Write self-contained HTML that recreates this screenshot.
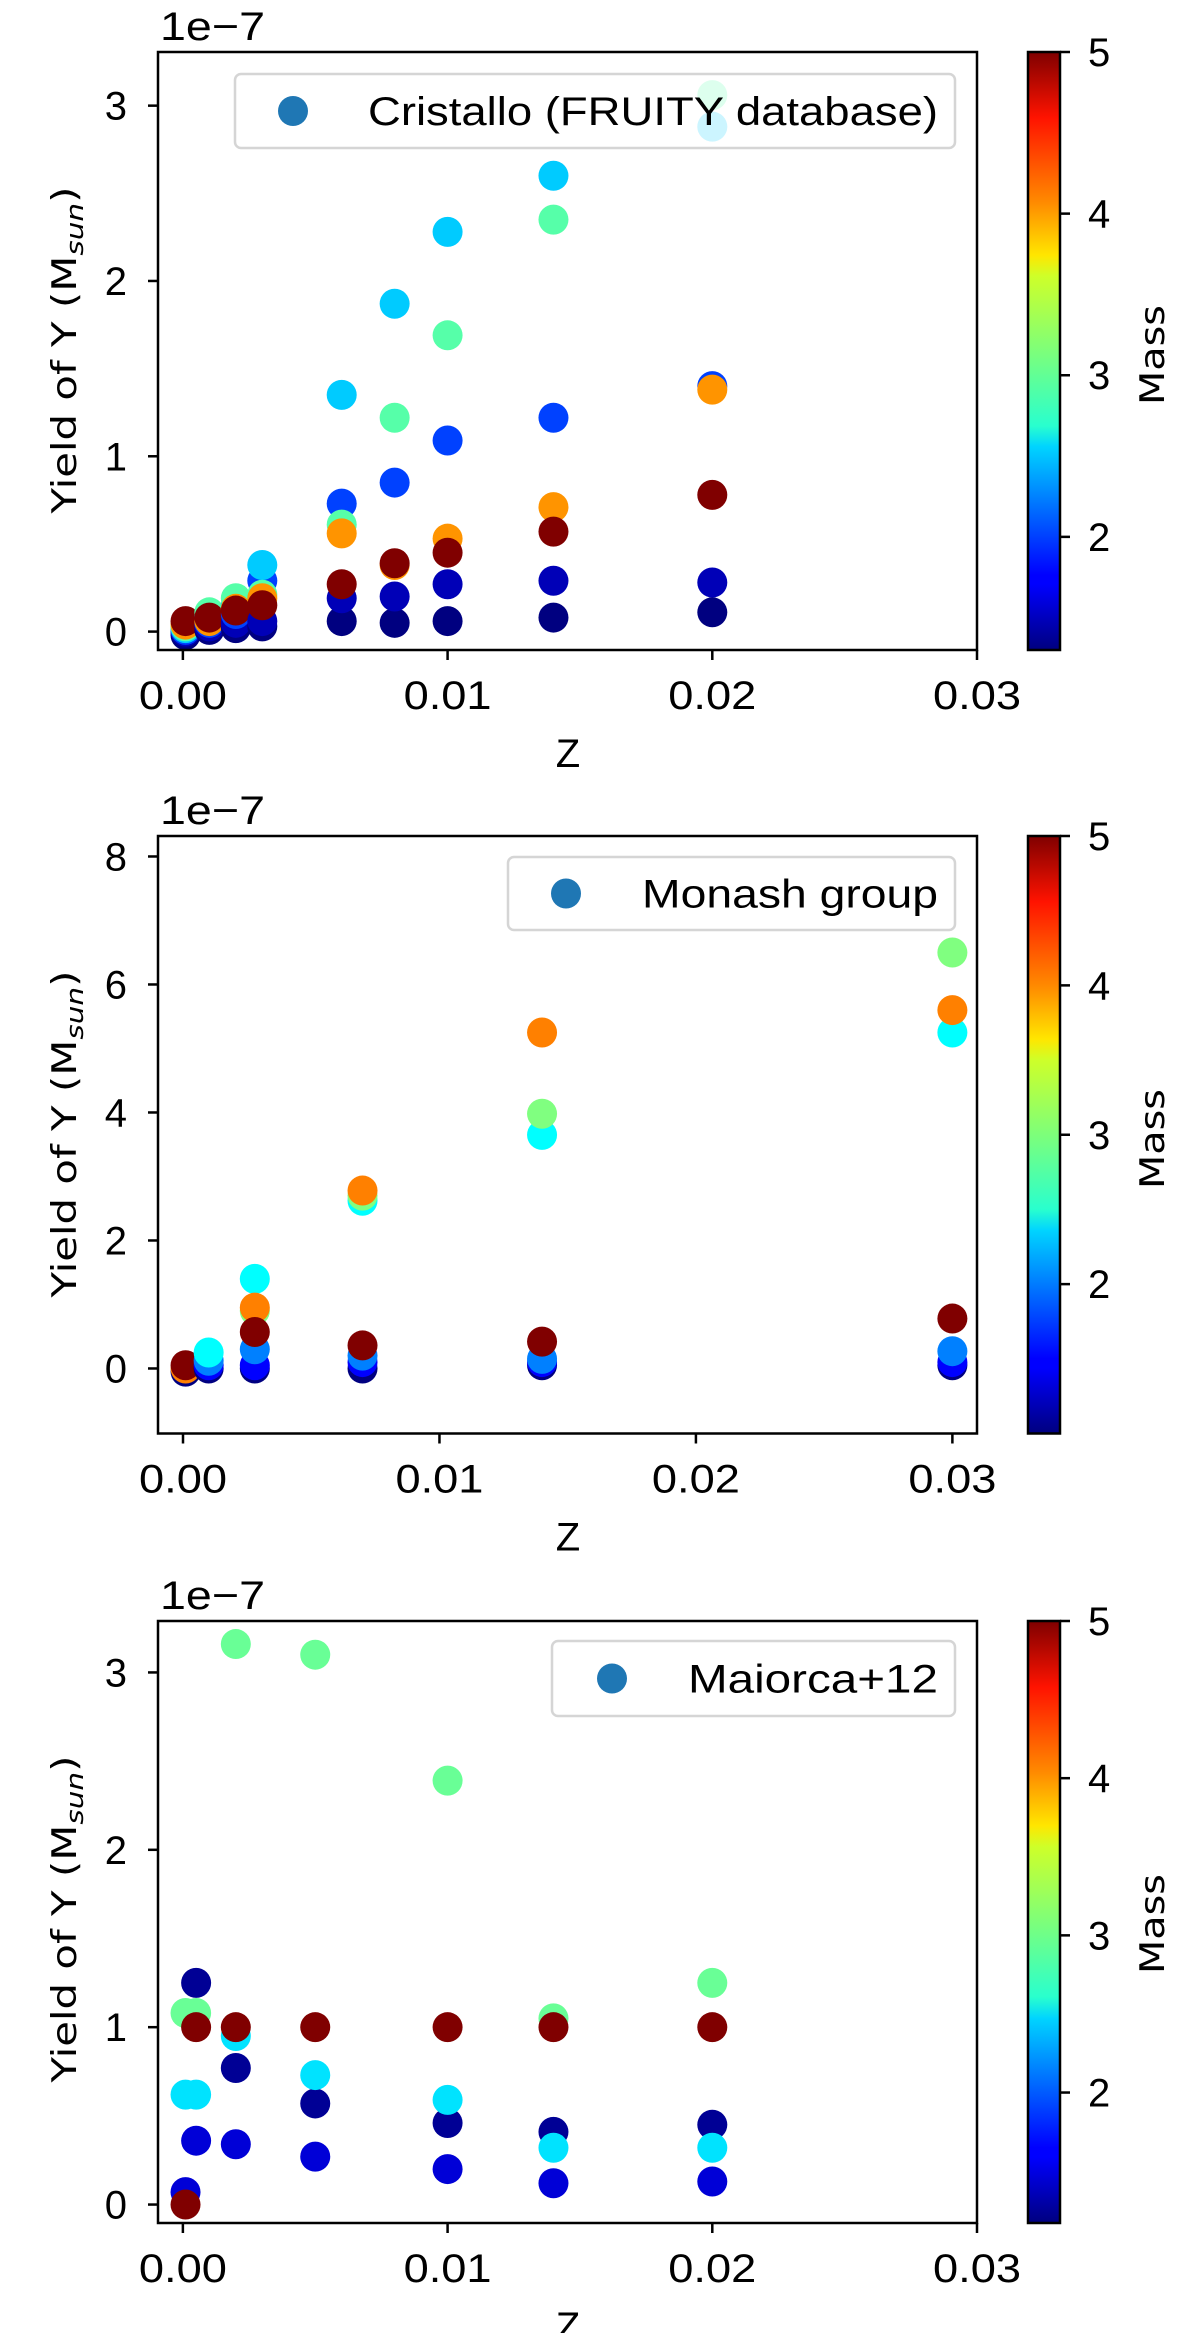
<!DOCTYPE html>
<html><head><meta charset="utf-8"><style>
html,body{margin:0;padding:0;background:#fff;}
svg{display:block;}
text{fill:#000;}
.tk{font-family:"Liberation Sans Narrow","Liberation Sans",sans-serif;font-size:40px;}
.lb{font-family:"DejaVu Sans","Liberation Sans",sans-serif;font-size:34px;}
</style></head><body>
<svg id="fig" width="1200" height="2333" viewBox="0 0 1200 2333" xmlns="http://www.w3.org/2000/svg">
<defs>
<linearGradient id="jetg" x1="0" y1="1" x2="0" y2="0">
<stop offset="0" stop-color="#00007f"/><stop offset="0.11" stop-color="#0000ff"/>
<stop offset="0.125" stop-color="#0000ff"/><stop offset="0.34" stop-color="#00d4ff"/>
<stop offset="0.375" stop-color="#29ffce"/><stop offset="0.5" stop-color="#7dff7a"/>
<stop offset="0.625" stop-color="#ceff29"/><stop offset="0.66" stop-color="#ffe600"/>
<stop offset="0.75" stop-color="#ff8900"/><stop offset="0.89" stop-color="#ff1300"/>
<stop offset="1" stop-color="#7f0000"/>
</linearGradient>
</defs>
</svg>
<script>
// ---- Panel 1: Cristallo (FRUITY) ----
const p1Z    = [0.0001,0.0001,0.0001,0.0001,0.0001,0.0001,0.0001, 0.001,0.001,0.001,0.001,0.001,0.001,0.001, 0.002,0.002,0.002,0.002,0.002,0.002,0.002, 0.003,0.003,0.003,0.003,0.003,0.003,0.003, 0.006,0.006,0.006,0.006,0.006,0.006,0.006, 0.008,0.008,0.008,0.008,0.008,0.008,0.008, 0.01,0.01,0.01,0.01,0.01,0.01,0.01, 0.014,0.014,0.014,0.014,0.014,0.014,0.014, 0.02,0.02,0.02,0.02,0.02,0.02,0.02];
const p1Mass = [1.3,1.5,2,2.5,3,4,5, 1.3,1.5,2,2.5,3,4,5, 1.3,1.5,2,2.5,3,4,5, 1.3,1.5,2,2.5,3,4,5, 1.3,1.5,2,2.5,3,4,5, 1.3,1.5,2,2.5,3,4,5, 1.3,1.5,2,2.5,3,4,5, 1.3,1.5,2,2.5,3,4,5, 1.3,1.5,2,2.5,3,4,5];
const p1Y    = [-0.02,0.0,0.01,0.02,0.03,0.04,0.06, 0.01,0.03,0.05,0.09,0.11,0.06,0.08, 0.02,0.05,0.1,0.15,0.19,0.13,0.12, 0.03,0.06,0.29,0.38,0.21,0.19,0.15, 0.06,0.19,0.73,1.35,0.61,0.56,0.27, 0.05,0.2,0.85,1.87,1.22,0.38,0.39, 0.06,0.27,1.09,2.28,1.69,0.53,0.45, 0.08,0.29,1.22,2.6,2.35,0.71,0.57, 0.11,0.28,1.4,2.88,3.06,1.38,0.78];
// ---- Panel 2: Monash ----
const p2Z    = [0.0001,0.0001,0.0001, 0.001,0.001,0.001,0.001, 0.0028,0.0028,0.0028,0.0028,0.0028,0.0028,0.0028, 0.007,0.007,0.007,0.007,0.007,0.007,0.007, 0.014,0.014,0.014,0.014,0.014,0.014,0.014, 0.03,0.03,0.03,0.03,0.03,0.03,0.03];
const p2Mass = [1,4,5, 1,1.5,2,2.5, 1,1.5,2,2.5,3,4,5, 1,1.5,2,2.5,3,4,5, 1,1.5,2,2.5,3,4,5, 1,1.5,2,2.5,3,4,5];
const p2Y    = [-0.05,0.0,0.05, 0.0,0.05,0.12,0.25, 0.0,0.05,0.3,1.4,0.9,0.95,0.57, 0.0,0.1,0.2,2.62,2.7,2.78,0.36, 0.05,0.1,0.15,3.65,3.98,5.25,0.42, 0.05,0.1,0.27,5.25,6.5,5.6,0.78];
// ---- Panel 3: Maiorca+12 ----
const p3Z    = [0.0001,0.0001,0.0001,0.0001, 0.0005,0.0005,0.0005,0.0005,0.0005, 0.002,0.002,0.002,0.002,0.002, 0.005,0.005,0.005,0.005,0.005, 0.01,0.01,0.01,0.01,0.01, 0.014,0.014,0.014,0.014,0.014, 0.02,0.02,0.02,0.02,0.02];
const p3Mass = [1.5,2.5,3,5, 1.5,1.25,2.5,3,5, 1.5,1.25,2.5,3,5, 1.5,1.25,2.5,3,5, 1.5,1.25,2.5,3,5, 1.5,1.25,2.5,3,5, 1.5,1.25,2.5,3,5];
const p3Y    = [0.07,0.62,1.08,0.0, 0.36,1.25,0.62,1.08,1.0, 0.34,0.77,0.95,3.16,1.0, 0.27,0.57,0.73,3.1,1.0, 0.2,0.46,0.59,2.39,1.0, 0.12,0.41,0.32,1.05,1.0, 0.13,0.45,0.32,1.25,1.0];
const xTicks1 = [0,0.01,0.02,0.03];
const xTickLabels1 = ["0.00","0.01","0.02","0.03"];
const yTicks1 = [0,1,2,3];
const yTicks2 = [0,2,4,6,8];
const cbTicks = [2,3,4,5];
const legendLabels = ["Cristallo (FRUITY database)","Monash group","Maiorca+12"];

const NS="http://www.w3.org/2000/svg";
const svg=document.getElementById('fig');
function mk(tag,attrs,parent){const e=document.createElementNS(NS,tag);for(const k in attrs)e.setAttribute(k,attrs[k]);(parent||svg).appendChild(e);return e;}
function jet(t){t=Math.max(0,Math.min(1,t));
 const r=Math.max(0,Math.min(1,1.5-Math.abs(4*t-3))),g=Math.max(0,Math.min(1,1.5-Math.abs(4*t-2))),b=Math.max(0,Math.min(1,1.5-Math.abs(4*t-1)));
 return `rgb(${Math.round(r*255)},${Math.round(g*255)},${Math.round(b*255)})`;}

const panels=[
 {top:52,bot:650,xmin:-0.00094,xmax:0.03,ymin:-0.105,ymax:3.306,yt:yTicks1,cmin:1.3,cmax:5,Z:p1Z,M:p1Mass,Y:p1Y,
  leg:{x:235,y:74,w:720,h:74,mx:293,tx:368,tw:570}},
 {top:836,bot:1433.5,xmin:-0.000975,xmax:0.03096,ymin:-1.016,ymax:8.32,yt:yTicks2,cmin:1.0,cmax:5,Z:p2Z,M:p2Mass,Y:p2Y,
  leg:{x:508,y:857,w:447,h:73,mx:566,tx:642,tw:296}},
 {top:1621,bot:2223,xmin:-0.00094,xmax:0.03,ymin:-0.104,ymax:3.29,yt:yTicks1,cmin:1.17,cmax:5,Z:p3Z,M:p3Mass,Y:p3Y,
  leg:{x:552,y:1641,w:403,h:75,mx:612,tx:688,tw:250}}
];
const L=158,R=977,CBL=1028,CBR=1060;
panels.forEach((p,i)=>{
 const g=mk('g',{});
 
 
 const sx=v=>L+(v-p.xmin)/(p.xmax-p.xmin)*(R-L);
 const sy=v=>p.bot-(v-p.ymin)/(p.ymax-p.ymin)*(p.bot-p.top);
 const sc=m=>p.bot-(m-p.cmin)/(p.cmax-p.cmin)*(p.bot-p.top);
 const pts=mk('g',{},g);
 
 
 for(let k=0;k<p.Z.length;k++){
  const c=mk('circle',{cx:sx(p.Z[k]),cy:sy(p.Y[k]),r:15,fill:jet((p.M[k]-p.cmin)/(p.cmax-p.cmin))},pts);
  
  
 }
 const fr=mk('rect',{x:L,y:p.top,width:R-L,height:p.bot-p.top,fill:'none',stroke:'#000','stroke-width':2.5},g);
 
 
 xTicks1.forEach((t,j)=>{
  const x=sx(t);
  mk('line',{x1:x,y1:p.bot,x2:x,y2:p.bot+10,stroke:'#000','stroke-width':2.5},g);
  const tx=mk('text',{x:x,y:p.bot+59,'text-anchor':'middle',class:'tk',textLength:88,lengthAdjust:'spacingAndGlyphs'},g);
  tx.textContent=xTickLabels1[j];
  
  
 });
 p.yt.forEach(t=>{
  const y=sy(t);
  mk('line',{x1:L-10,y1:y,x2:L,y2:y,stroke:'#000','stroke-width':2.5},g);
  const tx=mk('text',{x:127,y:y+14,'text-anchor':'end',class:'tk'},g);
  tx.textContent=String(t);
  
  
 });
 const xl=mk('text',{x:568,y:p.bot+117,'text-anchor':'middle',class:'tk'},g);
 xl.textContent='Z';
 
 
 const off=mk('text',{x:160,y:p.top-12,class:'tk',textLength:105,lengthAdjust:'spacingAndGlyphs'},g);
 off.textContent='1e\u22127';
 
 
 const yl=mk('text',{x:0,y:0,class:'lb','text-anchor':'middle',textLength:327,lengthAdjust:'spacingAndGlyphs',transform:`translate(76,${p.top+298}) rotate(-90)`},g);
 yl.innerHTML='Yield of Y (M<tspan font-size="24" font-style="italic" dy="7">sun</tspan><tspan dy="-7">)</tspan>';
 
 
 const lg=mk('g',{},g);
 
 
 mk('rect',{x:p.leg.x,y:p.leg.y,width:p.leg.w,height:p.leg.h,rx:6,fill:'#fff','fill-opacity':0.8,stroke:'#d5d5d5','stroke-width':2.5},lg);
 mk('circle',{cx:p.leg.mx,cy:p.leg.y+p.leg.h/2,r:15,fill:'#1f77b4'},lg);
 const lt=mk('text',{x:p.leg.tx,y:p.leg.y+p.leg.h/2+14,class:'tk',textLength:p.leg.tw,lengthAdjust:'spacingAndGlyphs'},lg);
 lt.textContent=legendLabels[i];
 
 
 const cb=mk('g',{},g);
 
 
 mk('rect',{x:CBL,y:p.top,width:CBR-CBL,height:p.bot-p.top,fill:'url(#jetg)',stroke:'#000','stroke-width':2.5},cb);
 cbTicks.forEach(t=>{
  const y=sc(t);
  mk('line',{x1:CBR,y1:y,x2:CBR+10,y2:y,stroke:'#000','stroke-width':2.5},cb);
  const tx=mk('text',{x:1088,y:y+14,class:'tk'},cb);
  tx.textContent=String(t);
  
  
 });
 const ml=mk('text',{x:0,y:0,class:'lb','text-anchor':'middle',textLength:100,lengthAdjust:'spacingAndGlyphs',transform:`translate(1164,${p.top+303}) rotate(-90)`},cb);
 ml.textContent='Mass';
 
 
});
</script>
</body></html>
